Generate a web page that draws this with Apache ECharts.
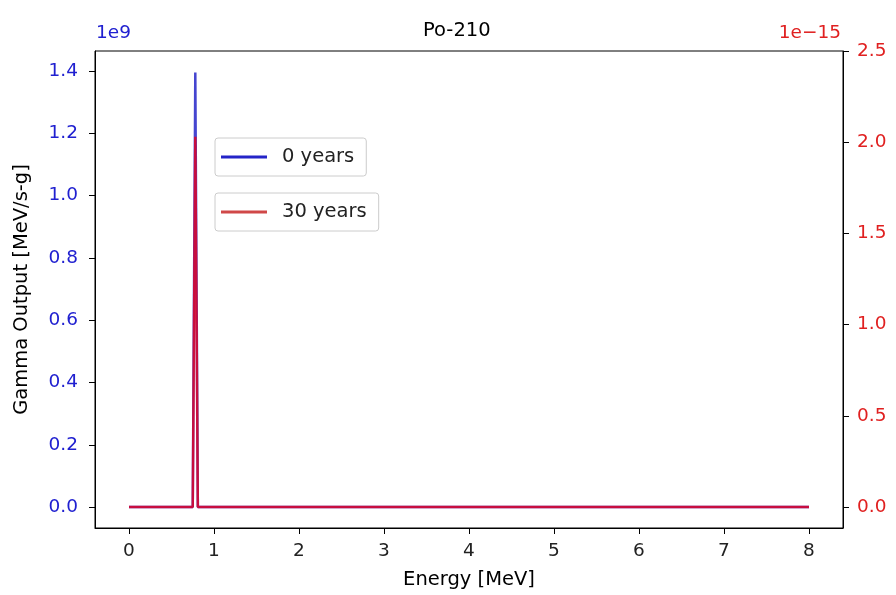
<!DOCTYPE html>
<html>
<head>
<meta charset="utf-8">
<script src="https://cdn.jsdelivr.net/npm/echarts@6/dist/echarts.min.js"></script>
<style>
  html, body { margin: 0; padding: 0; background: #fff; }
  #chart { width: 896px; height: 595px; }
</style>
</head>
<body>
<div id="chart"></div>
<script>
// energy grid points (MeV) and gamma output for each decay time
const energy = [0, 0.75, 0.78, 0.81, 8.0];
const output0yr = [0, 0, 1.395e9, 0, 0];
const output30yr = [0, 0, 2.03e-15, 0, 0];

const xTicks = [0, 1, 2, 3, 4, 5, 6, 7, 8];
const leftTicks = [0, 0.2e9, 0.4e9, 0.6e9, 0.8e9, 1.0e9, 1.2e9, 1.4e9];
const rightTicks = [0, 0.5e-15, 1.0e-15, 1.5e-15, 2.0e-15, 2.5e-15];

const font = "DejaVu Sans";
const blue = "#2424c8";
const red = "#e8001c";
const tickSize = 18.5;

const legendBox = (name, top, padR) => ({
  data: [name],
  left: 215,
  top: top,
  orient: "vertical",
  icon: "rect",
  itemWidth: 46,
  itemHeight: 3,
  padding: [9, padR, 9, 6],
  borderColor: "#cccccc",
  borderWidth: 1,
  borderRadius: 3,
  textStyle: { fontFamily: font, fontSize: 19.5, color: "#222", padding: [0, 0, 0, 10] },
});

const chartDom = document.getElementById("chart");
const myChart = echarts.init(chartDom);

myChart.setOption({
  animation: false,
  title: {
    text: "Po-210",
    left: 418,
    top: 16,
    textStyle: { fontFamily: font, fontSize: 19.5, fontWeight: "normal", color: "#000" },
  },
  legend: [legendBox("0 years", 138, 12), legendBox("30 years", 193, 12)],
  grid: {
    left: 95,
    right: 53,
    top: 51,
    bottom: 66,
    show: true,
    borderColor: "#000",
    borderWidth: 1,
  },
  xAxis: {
    type: "value",
    min: -0.4,
    max: 8.4,
    name: "Energy [MeV]",
    nameLocation: "middle",
    nameGap: 42,
    nameTextStyle: { fontFamily: font, fontSize: 19.5, color: "#000" },
    axisLine: { show: true, onZero: false, lineStyle: { color: "#000" } },
    axisTick: { show: true, length: 6, lineStyle: { color: "#000" }, customValues: xTicks },
    axisLabel: {
      fontFamily: font, fontSize: tickSize, color: "#222", margin: 14,
      customValues: xTicks,
      formatter: (v) => String(v),
    },
    splitLine: { show: false },
  },
  yAxis: [
    {
      type: "value",
      position: "left",
      min: -0.0671e9,
      max: 1.4637e9,
      name: "Gamma Output [MeV/s-g]",
      nameLocation: "middle",
      nameGap: 63,
      nameTextStyle: { fontFamily: font, fontSize: 19.5, color: "#000" },
      axisLine: { show: true, onZero: false, lineStyle: { color: "#000" } },
      axisTick: { show: true, length: 6, lineStyle: { color: "#000" }, customValues: leftTicks },
      axisLabel: {
        fontFamily: font, fontSize: tickSize, color: "#2020d0", margin: 17,
        customValues: leftTicks,
        formatter: (v) => (v / 1e9).toFixed(1),
      },
      splitLine: { show: false },
    },
    {
      type: "value",
      position: "right",
      min: -0.115e-15,
      max: 2.5e-15,
      axisLine: { show: true, onZero: false, lineStyle: { color: "#000" } },
      axisTick: { show: true, length: 6, lineStyle: { color: "#000" }, customValues: rightTicks },
      axisLabel: {
        fontFamily: font, fontSize: tickSize, color: "#e02020", margin: 14,
        customValues: rightTicks,
        formatter: (v) => (v / 1e-15).toFixed(1),
      },
      splitLine: { show: false },
    },
  ],
  graphic: [
    {
      type: "text",
      left: 96,
      top: 24,
      style: { text: "1e9", fontFamily: font, fontSize: tickSize, fill: "#2020d0" },
    },
    {
      type: "text",
      right: 55,
      top: 24,
      style: { text: "1e\u221215", fontFamily: font, fontSize: tickSize, fill: "#e02020" },
    },
  ],
  series: [
    {
      name: "0 years",
      type: "line",
      yAxisIndex: 0,
      data: energy.map((e, i) => [e, output0yr[i]]),
      showSymbol: false,
      symbol: "none",
      color: blue,
      lineStyle: { width: 2.5, color: blue, opacity: 0.85 },
    },
    {
      name: "30 years",
      type: "line",
      yAxisIndex: 1,
      data: energy.map((e, i) => [e, output30yr[i]]),
      showSymbol: false,
      symbol: "none",
      color: "#d04848",
      lineStyle: { width: 2.5, color: red, opacity: 0.8 },
    },
  ],
});
</script>
</body>
</html>
